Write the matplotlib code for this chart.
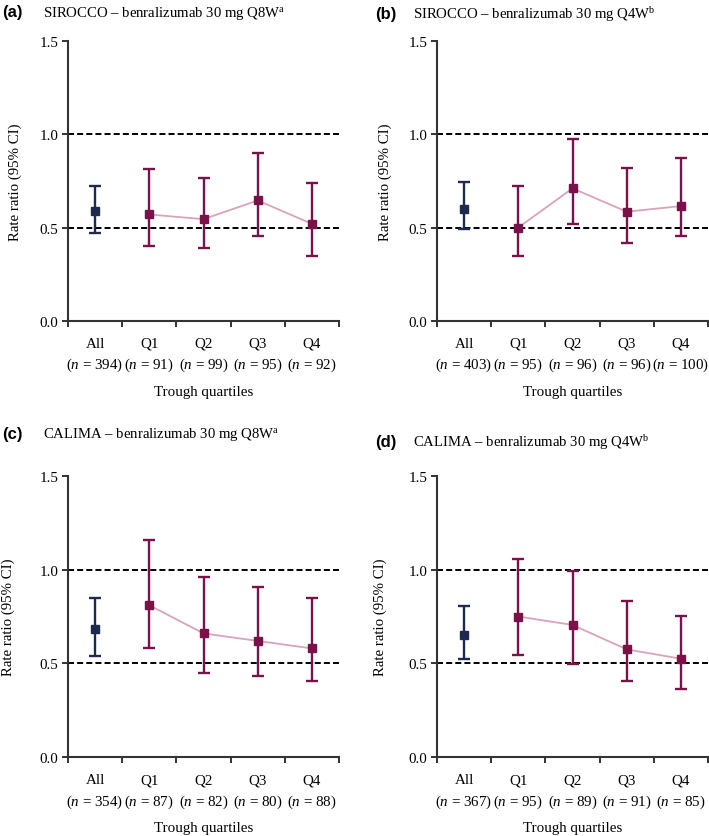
import numpy as np
import matplotlib
matplotlib.use('Agg')
import matplotlib.pyplot as plt

plt.rcParams['font.family'] = ['Liberation Serif', 'DejaVu Serif']
plt.rcParams['mathtext.fontset'] = 'custom'
plt.rcParams['mathtext.rm'] = 'Liberation Serif'
plt.rcParams['mathtext.it'] = 'Liberation Serif:italic'

# data: rate ratio with 95% CI
GROUPS = ['All', 'Q1', 'Q2', 'Q3', 'Q4']

a_n = [394, 91, 99, 95, 92]
a_rr = [0.59, 0.57, 0.545, 0.645, 0.52]
a_lo = [0.47, 0.40, 0.39, 0.455, 0.35]
a_hi = [0.72, 0.815, 0.765, 0.90, 0.74]

b_n = [403, 95, 96, 96, 100]
b_rr = [0.60, 0.50, 0.71, 0.585, 0.615]
b_lo = [0.49, 0.35, 0.52, 0.415, 0.455]
b_hi = [0.745, 0.72, 0.975, 0.82, 0.87]

c_n = [354, 87, 82, 80, 88]
c_rr = [0.685, 0.81, 0.66, 0.62, 0.58]
c_lo = [0.54, 0.58, 0.45, 0.435, 0.405]
c_hi = [0.85, 1.155, 0.96, 0.905, 0.85]

d_n = [367, 95, 89, 91, 85]
d_rr = [0.65, 0.75, 0.705, 0.575, 0.525]
d_lo = [0.525, 0.545, 0.495, 0.405, 0.365]
d_hi = [0.805, 1.055, 0.995, 0.835, 0.755]

NAVY = '#1b2a4e'
MAROON = '#7a1249'
PINK = '#d9a3bb'
AXIS = '#333333'

panels = [
    ('(a)', 'SIROCCO – benralizumab 30 mg Q8W$^{\\mathrm{a}}$', a_n, a_rr, a_lo, a_hi),
    ('(b)', 'SIROCCO – benralizumab 30 mg Q4W$^{\\mathrm{b}}$', b_n, b_rr, b_lo, b_hi),
    ('(c)', 'CALIMA – benralizumab 30 mg Q8W$^{\\mathrm{a}}$', c_n, c_rr, c_lo, c_hi),
    ('(d)', 'CALIMA – benralizumab 30 mg Q4W$^{\\mathrm{b}}$', d_n, d_rr, d_lo, d_hi),
]

# axes boxes in pixels: left, top, right, bottom
W, H = 709, 837
boxes = [
    (68, 41.7, 339, 322),
    (437, 41.7, 708, 322),
    (68, 476.7, 339, 758.3),
    (437, 476.7, 708, 758.3),
]
label_pos = [(2, 13, 43, 13), (375, 15, 413, 15), (2, 435, 43, 435), (375, 443, 413, 443)]
ylab_off = [46, 45, 53, 50]

fig = plt.figure(figsize=(W / 100, H / 100), dpi=100)

for i, (tag, title, n, rr, lo, hi) in enumerate(panels):
    l, t, r, b = boxes[i]
    ax = fig.add_axes([l / W, 1 - b / H, (r - l) / W, (b - t) / H])
    x = np.arange(len(GROUPS)) + 0.5
    rr = np.array(rr)
    err = np.vstack([rr - np.array(lo), np.array(hi) - rr])

    # reference lines at 1.0 and 0.5
    ax.axhline(1.0, color='black', lw=1.4, ls=(0, (3.1, 1.6)), zorder=1)
    ax.axhline(0.5, color='black', lw=1.4, ls=(0, (3.1, 1.6)), zorder=1)

    ax.plot(x[1:], rr[1:], color=PINK, lw=1.3, zorder=2)
    ax.errorbar(x[:1], rr[:1], yerr=err[:, :1], fmt='s', color=NAVY, ms=6.2,
                elinewidth=1.7, capsize=4, capthick=1.7, zorder=3)
    ax.errorbar(x[1:], rr[1:], yerr=err[:, 1:], fmt='s', color=MAROON, ms=6.2,
                elinewidth=1.7, capsize=4, capthick=1.7, zorder=3)

    ax.set_xlim(0, 5)
    ax.set_ylim(0, 1.5)
    ax.set_yticks([0, 0.5, 1.0, 1.5])
    ax.set_yticklabels(['0.0', '0.5', '1.0', '1.5'])
    ax.set_xticks(np.arange(6))
    ax.set_xticklabels([])
    ax.set_xticks(x, minor=True)
    ax.set_xticklabels([f'{g}\n($\\mathit{{n}}$ = {k})' for g, k in zip(GROUPS, n)],
                       minor=True, linespacing=1.5)
    ax.tick_params(axis='x', which='minor', length=0, pad=11.5, labelsize=10.8)
    ax.tick_params(axis='x', which='major', length=4, width=1.4, color=AXIS)
    ax.tick_params(axis='y', length=4, width=1.4, labelsize=10.8, pad=3, color=AXIS)

    for s in ['top', 'right']:
        ax.spines[s].set_visible(False)
    for s in ['left', 'bottom']:
        ax.spines[s].set_linewidth(1.5)
        ax.spines[s].set_color(AXIS)

    ax.set_ylabel('Rate ratio (95% CI)', fontsize=10.7)
    ax.yaxis.set_label_coords(-ylab_off[i] / (r - l), 0.5)
    ax.set_xlabel('Trough quartiles', fontsize=10.8)
    ax.xaxis.set_label_coords(0.5, -64 / (b - t))

    tx, ty, hx, hy = label_pos[i]
    fig.text(tx / W, 1 - ty / H, tag, family='Liberation Sans', weight='bold',
             fontsize=12, va='center', ha='left')
    fig.text(hx / W, 1 - hy / H, title, fontsize=10.6, va='center', ha='left')

fig.savefig('out.png', dpi=100)
